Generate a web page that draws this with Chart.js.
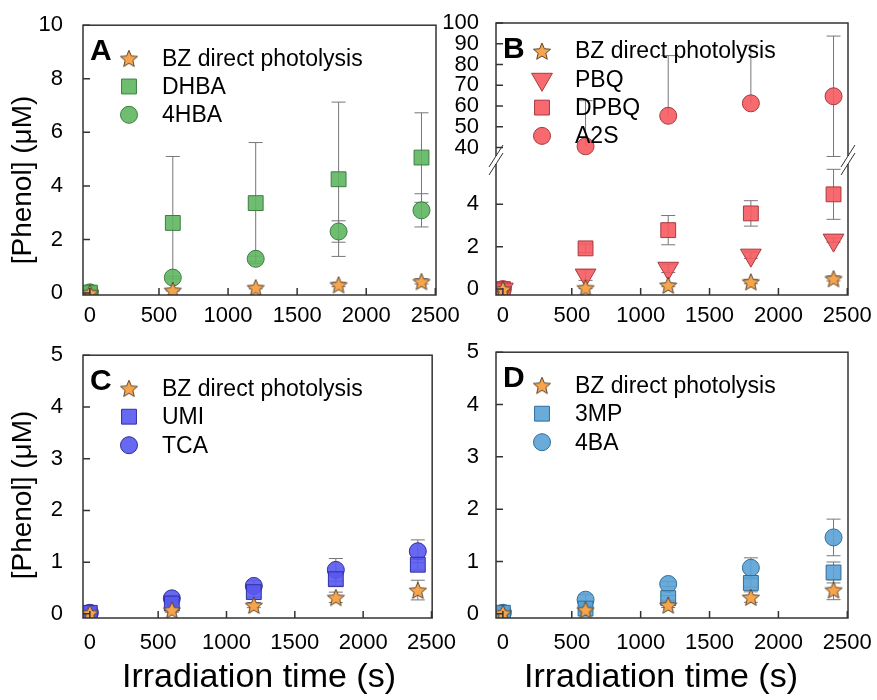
<!DOCTYPE html>
<html>
<head>
<meta charset="utf-8">
<script src="https://cdn.jsdelivr.net/npm/chart.js@4.4.0/dist/chart.umd.min.js"></script>
<style>
    body { margin: 0; background: #fff; width: 877px; height: 700px; position: relative; overflow: hidden;
           font-family: "Liberation Sans", Arial, sans-serif; color: #000; }
    canvas { position: absolute; }
    .titulo-y { position: absolute; width: 300px; height: 34px; line-height: 34px; text-align: center;
                font-size: 28px; transform: rotate(-90deg); white-space: nowrap; }
    .titulo-x { position: absolute; width: 400px; text-align: center; font-size: 34px; white-space: nowrap; }
</style>
</head>
<body>
<canvas id="graficaA" width="460" height="330" style="left:0;top:0"></canvas>
<canvas id="graficaB" width="437" height="330" style="left:440px;top:0"></canvas>
<canvas id="graficaC" width="460" height="330" style="left:0;top:330px"></canvas>
<canvas id="graficaD" width="437" height="330" style="left:440px;top:330px"></canvas>
<div class="titulo-y" style="left:-128px;top:163px">[Phenol] (μM)</div>
<div class="titulo-y" style="left:-128px;top:478px">[Phenol] (μM)</div>
<div class="titulo-x" style="left:59px;top:656px">Irradiation time (s)</div>
<div class="titulo-x" style="left:461px;top:656px">Irradiation time (s)</div>
<script>
//------------------//
//--|datos_comunes|--//
//------------------//
const tiempos = [0, 600, 1200, 1800, 2400];
const ticksX = [0, 500, 1000, 1500, 2000, 2500];
const ticksYA = [0, 2, 4, 6, 8, 10];
const ticksYBinf = [0, 2, 4];
const ticksYBsup = [40, 50, 60, 70, 80, 90, 100];
const ticksYCD = [0, 1, 2, 3, 4, 5];

//--|panel_A|--//
const bzA = [0.02, 0.11, 0.21, 0.32, 0.44];
const bzErrA = [0, 0.03, 0.05, 0.08, 0.1];
const dhba = [0.02, 2.62, 3.36, 4.25, 5.06];
const dhbaErr = [0, 2.48, 2.26, 2.88, 1.67];
const hba4 = [0.03, 0.58, 1.28, 2.3, 3.09];
const hba4Err = [0, 0.05, 0.1, 0.4, 0.62];

//--|panel_B|--//
const bzB = [0, 0.07, 0.19, 0.35, 0.5];
const bzErrB = [0, 0.05, 0.08, 0.1, 0.12];
const pbq = [0, 0.66, 0.98, 1.6, 2.31];
const pbqErr = [0, 0.25, 0.2, 0.15, 0.1];
const dpbq = [0, 1.92, 2.78, 3.57, 4.47];
const dpbqErr = [0, 0.2, 0.69, 0.6, 1.18];
const a2s = [null, 40.6, 55.3, 61.3, 64.7];
const a2sErr = [0, 22, 29, 28, 29];
const a2sCero = [0, null, null, null, null];

//--|panel_C|--//
const bzC = [0.02, 0.08, 0.17, 0.32, 0.46];
const bzErrC = [0, 0.05, 0.05, 0.1, 0.19];
const umi = [0.02, 0.2, 0.42, 0.67, 0.95];
const umiErr = [0, 0.08, 0.1, 0.12, 0.1];
const tca = [0.02, 0.3, 0.54, 0.85, 1.21];
const tcaErr = [0, 0.05, 0.1, 0.22, 0.22];

//--|panel_D|--//
const bzD = [0.02, 0.08, 0.17, 0.32, 0.46];
const bzErrD = [0, 0.05, 0.05, 0.1, 0.19];
const mp3 = [0.02, 0.1, 0.3, 0.59, 0.79];
const mp3Err = [0, 0.05, 0.05, 0.08, 0.2];
const ba4 = [0.02, 0.27, 0.57, 0.88, 1.46];
const ba4Err = [0, 0.1, 0.05, 0.19, 0.35];

//------------------------//
//--|marcadores_y_estilo|--//
//------------------------//
const fuente = '"Liberation Sans", Arial, sans-serif';

function crearEstrella(tam, relleno, borde) {
    const c = document.createElement("canvas");
    c.width = tam;
    c.height = tam;
    const g = c.getContext("2d");
    const r = tam / 2 - 1, ri = r * 0.45;
    g.beginPath();
    for (let i = 0; i < 10; i++) {
        const ang = -Math.PI / 2 + i * Math.PI / 5;
        const rr = i % 2 === 0 ? r : ri;
        g.lineTo(tam / 2 + rr * Math.cos(ang), tam / 2 + 1 + rr * Math.sin(ang));
    }
    g.closePath();
    g.fillStyle = relleno;
    g.fill();
    g.strokeStyle = borde;
    g.lineWidth = 1;
    g.stroke();
    return c;
}
const estrella = crearEstrella(20, "#f6a54c", "#5a4630");

const formas = {
    estrella: { pointStyle: estrella, pointRadius: 10, rotation: 0 },
    cuadro: { pointStyle: "rect", pointRadius: 10.5, rotation: 0 },
    circulo: { pointStyle: "circle", pointRadius: 8.5, rotation: 0 },
    triangulo: { pointStyle: "triangle", pointRadius: 12, rotation: 180 }
};

function serie(etiqueta, valores, errores, forma, relleno, borde, eje, enLeyenda) {
    const f = formas[forma];
    return {
        label: etiqueta,
        data: tiempos.map((t, i) => ({ x: t, y: valores[i] })),
        errores: errores,
        enLeyenda: enLeyenda !== false,
        yAxisID: eje || "y",
        pointStyle: f.pointStyle,
        pointRadius: f.pointRadius,
        pointHoverRadius: f.pointRadius,
        rotation: f.rotation,
        backgroundColor: relleno,
        borderColor: borde,
        borderWidth: 1,
        showLine: false
    };
}

//------------------------------//
//--|plugin_de_dibujo_propio|--//
//------------------------------//
function pluginPanel(letra, leyY, paso, quiebre) {
    return {
        id: "panel" + letra,
        beforeDatasetsDraw(chart) {
            const ctx = chart.ctx;
            const xS = chart.scales.x;
            chart.data.datasets.forEach(ds => {
                if (!ds.errores) return;
                const yS = chart.scales[ds.yAxisID];
                ctx.save();
                ctx.beginPath();
                ctx.rect(chart.chartArea.left, yS.top, chart.chartArea.width, yS.bottom - yS.top);
                ctx.clip();
                ctx.strokeStyle = "#777";
                ctx.lineWidth = 1;
                ds.data.forEach((p, i) => {
                    if (p.y == null || !ds.errores[i]) return;
                    const px = xS.getPixelForValue(p.x);
                    const centro = yS.getPixelForValue(p.y);
                    // cada mitad solo si su extremo cae dentro del eje
                    [p.y + ds.errores[i], p.y - ds.errores[i]].forEach(v => {
                        if (v < yS.min - 0.5 || v > yS.max) return;
                        const py = yS.getPixelForValue(v);
                        ctx.beginPath();
                        ctx.moveTo(px, centro);
                        ctx.lineTo(px, py);
                        ctx.moveTo(px - 7, py);
                        ctx.lineTo(px + 7, py);
                        ctx.stroke();
                    });
                });
                ctx.restore();
            });
        },
        afterDraw(chart) {
            const ctx = chart.ctx;
            const a = chart.chartArea;
            ctx.save();
            // marco
            ctx.strokeStyle = "#333";
            ctx.lineWidth = 1.5;
            ctx.strokeRect(a.left, a.top, a.right - a.left, a.bottom - a.top);
            // ticks hacia dentro
            ctx.beginPath();
            chart.scales.x.ticks.forEach(t => {
                const px = chart.scales.x.getPixelForValue(t.value);
                ctx.moveTo(px, a.bottom);
                ctx.lineTo(px, a.bottom - 7);
            });
            Object.values(chart.scales).forEach(s => {
                if (s.axis !== "y") return;
                s.ticks.forEach(t => {
                    const py = s.getPixelForValue(t.value);
                    ctx.moveTo(a.left, py);
                    ctx.lineTo(a.left + 7, py);
                });
            });
            ctx.stroke();
            // eje quebrado
            if (quiebre) {
                const yJ = chart.scales.ySup.bottom;
                [a.left, a.right].forEach(x0 => {
                    ctx.fillStyle = "#fff";
                    ctx.fillRect(x0 - 3, yJ - 4, 6, 8);
                    ctx.strokeStyle = "#333";
                    ctx.lineWidth = 1;
                    ctx.beginPath();
                    [-4, 4].forEach(d => {
                        ctx.moveTo(x0 - 7, yJ + d + 11);
                        ctx.lineTo(x0 + 7, yJ + d - 11);
                    });
                    ctx.stroke();
                });
            }
            // letra del panel
            ctx.fillStyle = "#000";
            ctx.font = "bold 30px " + fuente;
            ctx.textBaseline = "alphabetic";
            ctx.fillText(letra, a.left + 7, a.top + 35);
            // leyenda
            ctx.font = "23px " + fuente;
            ctx.textBaseline = "middle";
            let fila = 0;
            chart.data.datasets.forEach(ds => {
                if (!ds.enLeyenda) return;
                const y = a.top + leyY + fila * paso;
                ctx.fillStyle = ds.backgroundColor;
                ctx.strokeStyle = ds.borderColor;
                ctx.lineWidth = 1;
                Chart.helpers.drawPoint(ctx, {
                    pointStyle: ds.pointStyle, radius: ds.pointRadius, rotation: ds.rotation, borderWidth: 1
                }, a.left + 46, y);
                ctx.fillStyle = "#000";
                ctx.fillText(ds.label, a.left + 79, y + 1);
                fila++;
            });
            ctx.restore();
        }
    };
}

function ejeX(alto, relleno) {
    return {
        type: "linear", position: "bottom", min: -50, max: 2505,
        grid: { display: false }, border: { display: false },
        afterBuildTicks: s => { s.ticks = ticksX.map(v => ({ value: v })); },
        afterFit: s => { s.height = alto; },
        ticks: { color: "#000", font: { size: 22, family: fuente }, padding: relleno, autoSkip: false,
                 maxRotation: 0, callback: v => String(v) }
    };
}

function ejeY(min, max, marcas, ancho, relleno, extra) {
    return Object.assign({
        type: "linear", position: "left", min: min, max: max,
        grid: { display: false }, border: { display: false },
        afterBuildTicks: s => { s.ticks = marcas.map(v => ({ value: v })); },
        afterFit: s => { s.width = ancho; },
        ticks: { color: "#000", font: { size: 22, family: fuente }, padding: relleno, autoSkip: false,
                 callback: v => String(v) }
    }, extra || {});
}

function crearGrafica(id, datasets, scales, padding, plugin) {
    return new Chart(document.getElementById(id), {
        type: "scatter",
        data: { datasets: datasets },
        options: {
            responsive: false,
            animation: false,
            layout: { padding: padding },
            plugins: { legend: { display: false }, tooltip: { enabled: false } },
            scales: scales
        },
        plugins: [plugin]
    });
}

//------------------//
//--|graficas_A_D|--//
//------------------//
const verde = "rgba(94,182,96,0.9)", verdeB = "#3d7d40";
const rojo = "rgba(245,90,96,0.9)", rojoB = "#a83a3e";
const azul = "rgba(88,88,240,0.9)", azulB = "#2f2fa3";
const celeste = "rgba(90,162,214,0.9)", celesteB = "#2f6e9c";
const naranja = "#f6a54c", naranjaB = "#5a4630";

crearGrafica("graficaA", [
    serie("BZ direct photolysis", bzA, bzErrA, "estrella", naranja, naranjaB),
    serie("DHBA", dhba, dhbaErr, "cuadro", verde, verdeB),
    serie("4HBA", hba4, hba4Err, "circulo", verde, verdeB)
], { x: ejeX(35, 0), y: ejeY(-0.07, 10, ticksYA, 83, 12) },
   { top: 24, right: 24 }, pluginPanel("A", 33, 28.3, false));

crearGrafica("graficaB", [
    serie("BZ direct photolysis", bzB, bzErrB, "estrella", naranja, naranjaB, "yInf"),
    serie("PBQ", pbq, pbqErr, "triangulo", rojo, rojoB, "yInf"),
    serie("DPBQ", dpbq, dpbqErr, "cuadro", rojo, rojoB, "yInf"),
    serie("A2S", a2s, a2sErr, "circulo", rojo, rojoB, "ySup"),
    serie("A2S", a2sCero, null, "circulo", rojo, rojoB, "yInf", false)
], {
    x: ejeX(35, 0),
    yInf: ejeY(-0.28, 6.09, ticksYBinf, 56, 9, { stack: "b", stackWeight: 135 }),
    ySup: ejeY(34, 100, ticksYBsup, 56, 9, { stack: "b", stackWeight: 137 })
}, { top: 23, right: 29 }, pluginPanel("B", 28, 28.3, true));

crearGrafica("graficaC", [
    serie("BZ direct photolysis", bzC, bzErrC, "estrella", naranja, naranjaB),
    serie("UMI", umi, umiErr, "cuadro", azul, azulB),
    serie("TCA", tca, tcaErr, "circulo", azul, azulB)
], { x: ejeX(42, 4), y: ejeY(-0.08, 5, ticksYCD, 83, 12) },
   { top: 16, right: 24 }, pluginPanel("C", 33, 28.5, false));

crearGrafica("graficaD", [
    serie("BZ direct photolysis", bzD, bzErrD, "estrella", naranja, naranjaB),
    serie("3MP", mp3, mp3Err, "cuadro", celeste, celesteB),
    serie("4BA", ba4, ba4Err, "circulo", celeste, celesteB)
], { x: ejeX(42, 4), y: ejeY(-0.08, 5, ticksYCD, 56, 9) },
   { top: 16, right: 29 }, pluginPanel("D", 33, 28.5, false));
</script>
</body>
</html>
